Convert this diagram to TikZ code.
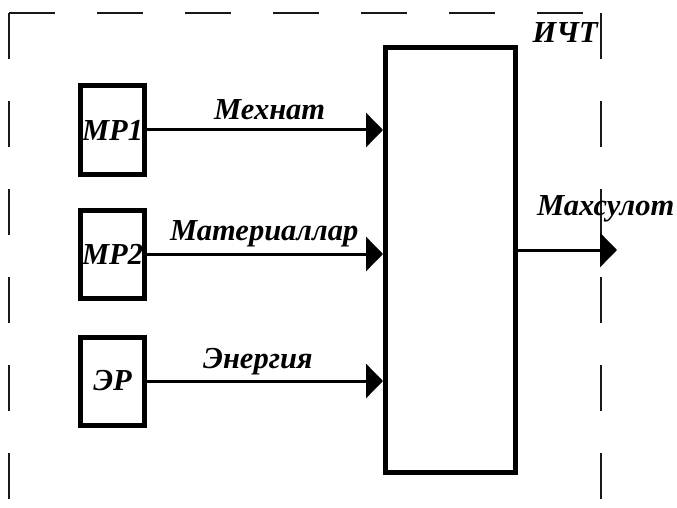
\documentclass[tikz,border=0pt]{standalone}
\usepackage{fontspec}
\setmainfont{Liberation Serif}
\usetikzlibrary{arrows.meta}
\begin{document}
\begin{tikzpicture}[x=1pt,y=-1pt,
  txt/.style={font=\bfseries\itshape\fontsize{30.5}{30.5}\selectfont,inner sep=0pt},
  resbox/.style={draw,line width=5pt,minimum width=64pt,minimum height=88pt,inner sep=0pt,txt},
  bigbox/.style={draw,line width=5pt,minimum width=130pt,minimum height=425pt,inner sep=0pt},
  flow/.style={line width=3pt,-{Triangle[length=17pt,width=34pt]}},
  frame/.style={line width=1.5pt,dash pattern=on 46pt off 42pt,gray!20!black}]
\useasboundingbox (0,0) rectangle (677,508);
\coordinate (ftl) at (9,13);
\coordinate (ftr) at (601,13);
\coordinate (fbl) at (9,530);
\coordinate (fbr) at (601,530);
\draw[frame] (ftl) -- (ftr);
\draw[frame] (ftl) -- (fbl);
\draw[frame] (ftr) -- (fbr);
\node[txt,anchor=base east] (ict) at (598,43) {ИЧТ};
\node[bigbox] (main) at (450.5,260) {};
\node[resbox] (mr1) at (112.5,130) {МР1};
\node[resbox] (mr2) at (112.5,254) {МР2};
\node[resbox] (er) at (112.5,381) {ЭР};
\draw[flow] (mr1.east) -- (main.west |- mr1.east);
\draw[flow] (mr2.east) -- (main.west |- mr2.east);
\draw[flow] (er.east) -- (main.west |- er.east);
\coordinate (mainout) at (main.east |- 0,250);
\coordinate (outend) at (617,250);
\draw[flow] (mainout) -- (outend);
\node[txt,anchor=base west] (l1) at (214,120) {Мехнат};
\node[txt,anchor=base west] (l2) at (170,240) {Материаллар};
\node[txt,anchor=base west] (l3) at (203,368) {Энергия};
\node[txt,anchor=base west] (l4) at (537,215) {Махсулот};
\end{tikzpicture}
\end{document}
